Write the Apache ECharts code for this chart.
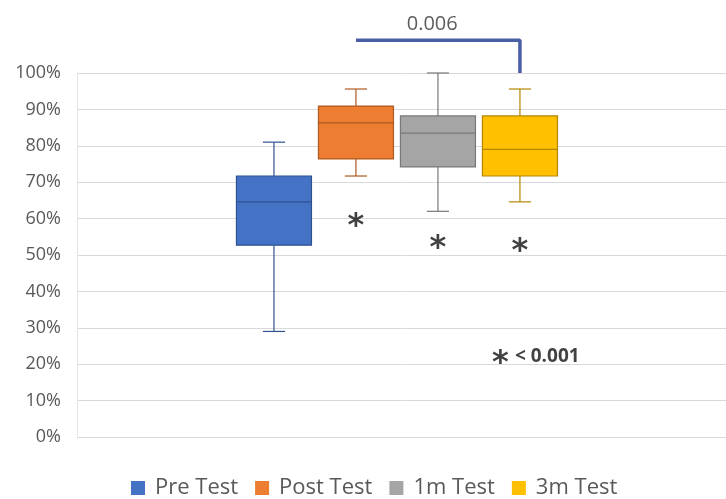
<!DOCTYPE html>
<html>
<head>
<meta charset="utf-8">
<script src="https://cdn.jsdelivr.net/npm/echarts@6/dist/echarts.min.js"></script>
<style>html,body{margin:0;padding:0;background:#fff;}#main{width:726px;height:499px;}</style>
</head>
<body>
<div id="main"></div>
<script>
// ---- data ----
const categories = ['Pre Test', 'Post Test', '1m Test', '3m Test'];
// [min, Q1, median, Q3, max] as fractions
const preTest  = [0.29, 0.527, 0.646, 0.717, 0.81];
const postTest = [0.717, 0.764, 0.863, 0.909, 0.956];
const m1Test   = [0.62, 0.742, 0.835, 0.882, 1.0];
const m3Test   = [0.646, 0.717, 0.79, 0.882, 0.956];
const yTicks = [0, 0.1, 0.2, 0.3, 0.4, 0.5, 0.6, 0.7, 0.8, 0.9, 1.0];
// significance marks: [category index, value]
const starMarks = [[1, 0.60], [2, 0.54], [3, 0.53]];
const footnoteMark = [2.73, 0.223];
const footnoteText = '< 0.001';
const bracket = [[1, 1.09], [3, 1.09], [3, 1.0]];
const bracketLabel = '0.006';
const bracketLabelPos = [1.93, 1.133];

// ---- styles ----
const fills = ['#4472c4', '#ed7d31', '#a5a5a5', '#ffc000'];
const edges = ['#2f528f', '#ae5a21', '#787878', '#b38600'];
const BOX_W = 0.915, CAP_W = 0.27;

const allStats = [preTest, postTest, m1Test, m3Test];

function renderBox(params, api) {
  const x = api.value(0);
  const c = [1, 2, 3, 4, 5].map(k => api.coord([x, api.value(k)]));
  const cx = c[0][0];
  const half = api.size([BOX_W, 0])[0] / 2;
  const cap = api.size([CAP_W, 0])[0] / 2;
  const i = params.seriesIndex;
  const edge = edges[i];
  const ls = { stroke: edge, lineWidth: 1.2 };
  return {
    type: 'group',
    children: [
      { type: 'line', shape: { x1: cx, y1: c[4][1], x2: cx, y2: c[3][1] }, style: ls },
      { type: 'line', shape: { x1: cx, y1: c[1][1], x2: cx, y2: c[0][1] }, style: ls },
      { type: 'line', shape: { x1: cx - cap, y1: c[4][1], x2: cx + cap, y2: c[4][1] }, style: ls },
      { type: 'line', shape: { x1: cx - cap, y1: c[0][1], x2: cx + cap, y2: c[0][1] }, style: ls },
      { type: 'rect', shape: { x: cx - half, y: c[3][1], width: 2 * half, height: c[1][1] - c[3][1] },
        style: { fill: fills[i], stroke: edge, lineWidth: 1.2 } },
      { type: 'line', shape: { x1: cx - half, y1: c[2][1], x2: cx + half, y2: c[2][1] }, style: ls }
    ]
  };
}

const boxSeries = categories.map((name, i) => ({
  name: name,
  type: 'custom',
  renderItem: renderBox,
  itemStyle: { color: fills[i] },
  encode: { x: 0, y: [1, 2, 3, 4, 5] },
  data: [[i].concat(allStats[i])],
  z: 3
}));

const starStyle = { fontSize: 32, fontWeight: 'bold', color: '#111111', fontFamily: 'DejaVu Sans' };

const chart = echarts.init(document.getElementById('main'), null, { renderer: 'canvas' });
chart.setOption({
  animation: false,
  backgroundColor: '#ffffff',
  textStyle: { fontFamily: 'Open Sans' },
  grid: { left: 77, right: 0, top: 73, bottom: 62 },
  xAxis: {
    type: 'value', min: -2.402, max: 5.513,
    show: false, splitLine: { show: false }
  },
  yAxis: {
    type: 'value', min: yTicks[0], max: yTicks[yTicks.length - 1], interval: 0.1,
    axisLine: { show: true, onZero: false, lineStyle: { color: '#e6e6e6' } },
    axisTick: { show: false },
    splitLine: { lineStyle: { color: '#d9d9d9', width: 1 } },
    axisLabel: {
      margin: 16, fontSize: 18, color: '#595959', fontFamily: 'Open Sans',
      formatter: v => Math.round(v * 100) + '%'
    }
  },
  legend: {
    data: categories,
    top: 472, left: 126,
    icon: 'rect', itemWidth: 14, itemHeight: 14, itemGap: 17,
    textStyle: { fontSize: 22, color: '#595959', fontFamily: 'Open Sans', padding: [0, 0, 0, 5] }
  },
  series: boxSeries.concat([
    {
      name: 'stars', type: 'scatter', symbolSize: 1, itemStyle: { color: 'rgba(0,0,0,0)' },
      data: starMarks, clip: false, silent: true,
      label: { show: true, position: 'inside', formatter: '*', offset: [0, 8], ...starStyle }
    },
    {
      name: 'footnote', type: 'scatter', symbolSize: 1, itemStyle: { color: 'rgba(0,0,0,0)' },
      data: [footnoteMark], clip: false, silent: true,
      label: {
        show: true, position: 'inside', offset: [38, 8],
        formatter: '{s|*}  {t|' + footnoteText + '}',
        rich: {
          s: starStyle,
          t: { fontSize: 19, fontWeight: 'bold', color: '#111111', fontFamily: 'Open Sans', padding: [0, 0, 14, 0] }
        }
      }
    },
    {
      name: 'bracket', type: 'line', data: bracket, clip: false, silent: true,
      symbol: 'none', lineStyle: { color: '#4a5ea8', width: 3.5 }, z: 4
    },
    {
      name: 'bracketLabel', type: 'scatter', symbolSize: 1, itemStyle: { color: 'rgba(0,0,0,0)' },
      data: [bracketLabelPos], clip: false, silent: true,
      label: { show: true, position: 'inside', formatter: bracketLabel, fontSize: 20, color: '#333333', fontFamily: 'Open Sans' }
    }
  ])
});
</script>
</body>
</html>
